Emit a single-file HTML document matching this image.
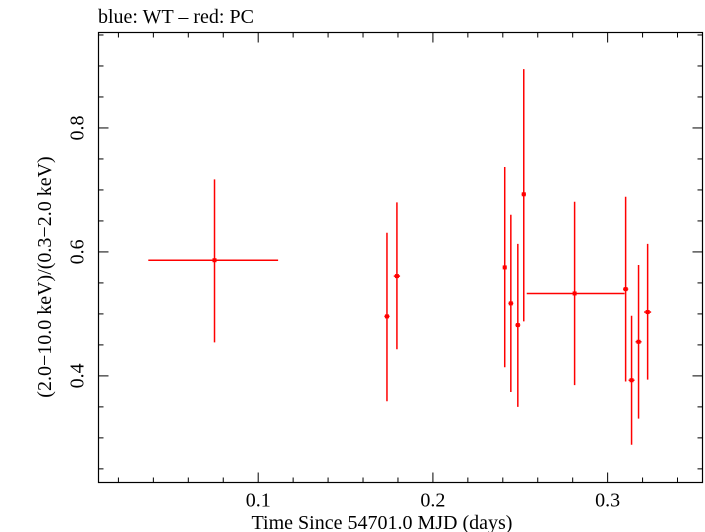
<!DOCTYPE html>
<html><head><meta charset="utf-8"><style>
body{margin:0;background:#fff;}
svg{display:block;font-family:"Liberation Serif",serif;}
</style></head><body>
<svg id="chart" width="705" height="532" xmlns="http://www.w3.org/2000/svg">
<text x="98" y="23" font-size="20">blue: WT – red: PC</text>
<rect x="98.5" y="32.5" width="604" height="450" fill="none" stroke="#000" stroke-width="1.2"/>
<g id="ticks"></g>
<g id="marks"></g>
<text x="382" y="529" font-size="20" text-anchor="middle">Time Since 54701.0 MJD (days)</text>
<text transform="translate(51,277) rotate(-90)" font-size="20" text-anchor="middle">(2.0−10.0 keV)/(0.3−2.0 keV)</text>
</svg>
<script>
const xVals=[0.075,0.1737,0.1794,0.2411,0.2446,0.2486,0.252,0.2811,0.3103,0.3137,0.3177,0.3229];
const xLo=[0.0371,0.1722,0.1776,0.2400,0.2432,0.2472,0.2508,0.2537,0.3088,0.3120,0.3160,0.3209];
const xHi=[0.1114,0.1752,0.1812,0.2422,0.2460,0.2500,0.2532,0.3097,0.3118,0.3154,0.3194,0.3249];
const yVals=[0.5866,0.496,0.561,0.575,0.517,0.482,0.693,0.533,0.540,0.393,0.455,0.503];
const yLo=[0.454,0.359,0.443,0.414,0.374,0.350,0.488,0.385,0.391,0.289,0.331,0.394];
const yHi=[0.717,0.631,0.680,0.737,0.660,0.613,0.895,0.681,0.689,0.497,0.579,0.613];
const xTickLabels=["0.1","0.2","0.3"];
const yTickLabels=["0.4","0.6","0.8"];
const X0=98.5,X1=702.5,Y0=32.5,Y1=482.5;
const xMin=0.0086,xMax=0.3543,yMin=0.228,yMax=0.954;
const sx=v=>X0+(v-xMin)/(xMax-xMin)*(X1-X0);
const sy=v=>Y1-(v-yMin)/(yMax-yMin)*(Y1-Y0);
const NS="http://www.w3.org/2000/svg";
function mk(tag,attrs,parent){const e=document.createElementNS(NS,tag);for(const k in attrs)e.setAttribute(k,attrs[k]);parent.appendChild(e);return e;}
const tg=document.getElementById('ticks');
for(let i=1;i<=17;i++){const v=i*0.02;if(v<xMin||v>xMax)continue;const major=Math.abs(v*10-Math.round(v*10))<1e-6;const L=major?10:5;const x=sx(v);
 const t1=mk('line',{x1:x,x2:x,y1:Y1,y2:Y1-L,stroke:'#000','stroke-width':1},tg);
 
 
 const t2=mk('line',{x1:x,x2:x,y1:Y0,y2:Y0+L,stroke:'#000','stroke-width':1},tg);
 
 }
for(let i=5;i<=19;i++){const v=i*0.05;if(v<yMin||v>yMax)continue;const major=(i%4===0);const L=major?10:5;const y=sy(v);
 const t1=mk('line',{x1:X0,x2:X0+L,y1:y,y2:y,stroke:'#000','stroke-width':1},tg);
 
 
 const t2=mk('line',{x1:X1,x2:X1-L,y1:y,y2:y,stroke:'#000','stroke-width':1},tg);
 
 }
xTickLabels.forEach(s=>{const t=mk('text',{x:sx(parseFloat(s)),y:Y1+24,'font-size':20,'text-anchor':'middle'},tg);t.textContent=s;
 
 });
yTickLabels.forEach(s=>{const y=sy(parseFloat(s));const t=mk('text',{transform:`translate(${X0-15},${y}) rotate(-90)`,'font-size':20,'text-anchor':'middle'},tg);t.textContent=s;
 
 });
const mg=document.getElementById('marks');
xVals.forEach((xv,i)=>{const g=mk('g',{},mg);
 
 
 mk('line',{x1:sx(xLo[i]),x2:sx(xHi[i]),y1:sy(yVals[i]),y2:sy(yVals[i]),stroke:'#f00','stroke-width':1.5},g);
 mk('line',{x1:sx(xv),x2:sx(xv),y1:sy(yLo[i]),y2:sy(yHi[i]),stroke:'#f00','stroke-width':1.5},g);
 mk('rect',{x:sx(xv)-2,y:sy(yVals[i])-2,width:4,height:4,fill:'#f00'},g);});
</script>
</body></html>
